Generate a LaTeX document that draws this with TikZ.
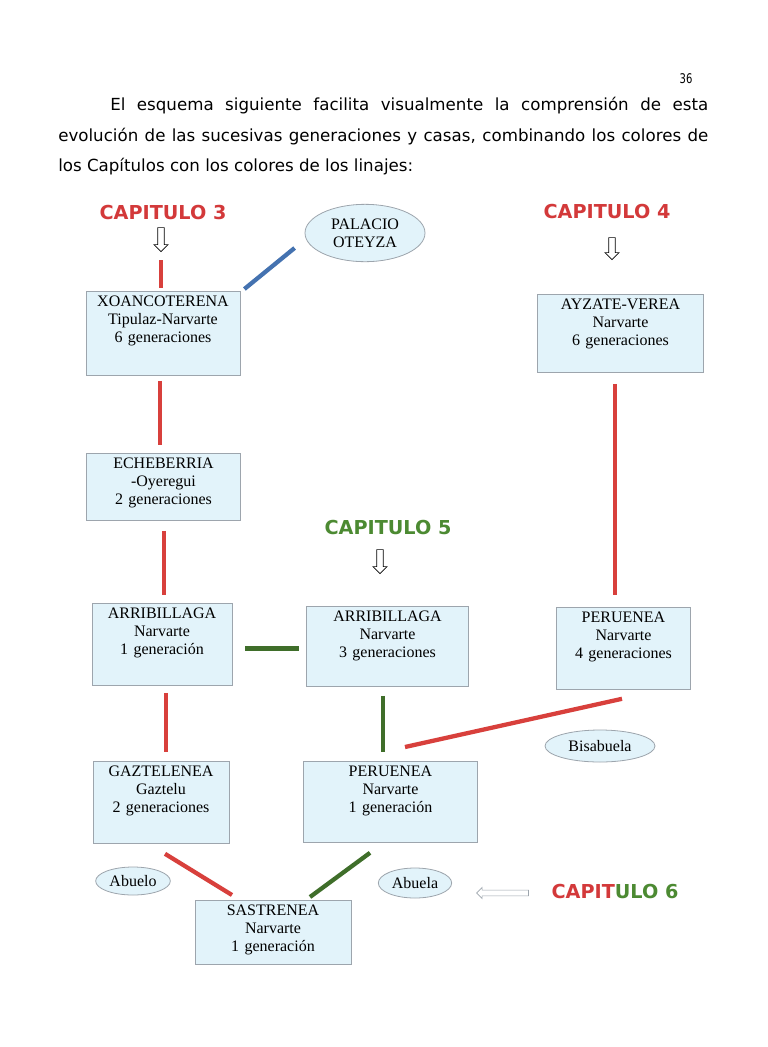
\documentclass[tikz,border=0pt]{standalone}
\usepackage{fontspec}
\setmainfont{Liberation Serif}
\newfontfamily\verdana{DejaVu Sans}
\usetikzlibrary{positioning, calc}
\usetikzlibrary{shapes.geometric, shapes.arrows}
\definecolor{rojo}{HTML}{D8403C}
\definecolor{rojotxt}{HTML}{D3393A}
\definecolor{verde}{HTML}{3F6E2A}
\definecolor{verdetxt}{HTML}{4C8A32}
\definecolor{azul}{HTML}{4472B0}
\definecolor{celeste}{HTML}{E2F3FA}
\definecolor{bordegris}{HTML}{9DA5AD}
\tikzstyle{casa} = [rectangle, draw=bordegris, fill=celeste, line width=0.6pt,
    align=center, inner sep=0pt, text height=11.5pt, font=\fontsize{12}{13.5}\selectfont]
\tikzstyle{nube} = [ellipse, draw=bordegris, fill=celeste, line width=0.6pt,
    align=center, inner sep=0pt, font=\fontsize{12}{13.5}\selectfont]
\tikzstyle{capitulo} = [inner sep=0pt, font=\verdana\bfseries\fontsize{14.4}{17}\selectfont]
\tikzstyle{flecha} = [single arrow, draw, fill=white, line width=0.5pt, inner sep=2.2pt,
    single arrow head extend=2.8pt, rotate=-90]
\tikzstyle{linea} = [draw, line width=3.2pt]

\begin{document}
\begin{tikzpicture}[x=0.75pt, y=-0.75pt]
  \path [use as bounding box, fill=white] (0,0) rectangle (768,1047);
   % Text of the page
    \node [font=\verdana\fontsize{10}{12}\selectfont, xscale=0.75] (pagina) at (686,79) {36};
    \node [anchor=north west, inner sep=0pt, text width=487.5pt, align=justify,
      font=\verdana\fontsize{12.5}{22.9}\selectfont] (intro) at (58,97)
      {\hspace*{39pt}El esquema siguiente facilita visualmente la comprensión de esta\linebreak
       evolución de las sucesivas generaciones y casas, combinando los colores de\linebreak
       los Capítulos con los colores de los linajes:};
   % Place nodes
    \node [capitulo, text=rojotxt] (cap3) at (163,213) {CAPITULO 3};
    \node [capitulo, text=rojotxt] (cap4) at (607,212) {CAPITULO 4};
    \node [capitulo, text=verdetxt] (cap5) at (388,528) {CAPITULO 5};
    \node [capitulo] (cap6) at (615,891) {\textcolor{rojotxt}{CAPIT}\textcolor{verdetxt}{ULO 6}};
    \node [flecha, minimum height=18pt] (f3) at (161,238) {};
    \node [flecha, minimum height=16.5pt] (f4) at (612,247) {};
    \node [flecha, minimum height=18pt] (f5) at (380,560) {};
    \node [flecha, rotate=270, draw=bordegris, minimum height=39pt, inner sep=1.9pt,
      single arrow head extend=2pt] (f6) at (504,893) {};
    \node [nube, minimum width=90pt, minimum height=43pt] (palacio) at (365,233) {PALACIO\\OTEYZA};
    \node [nube, minimum width=82.5pt, minimum height=24pt] (bisabuela) at (600,746) {Bisabuela};
    \node [nube, minimum width=56pt, minimum height=21pt] (abuelo) at (133,881) {Abuelo};
    \node [nube, minimum width=55pt, minimum height=22.5pt] (abuela) at (415,883) {Abuela};
    \node [casa, anchor=north, text width=115.5pt, text depth=51.5pt] (xoan) at (163,291)
      {XOANCOTERENA\\Tipulaz-Narvarte\\6 generaciones};
    \node [casa, anchor=north, text width=125pt, text depth=47pt] (ayzate) at (620.5,294)
      {AYZATE-VEREA\\Narvarte\\6 generaciones};
    \node [casa, anchor=north, text width=116pt, text depth=38.75pt] (eche) at (163.5,453)
      {ECHEBERRIA\\-Oyeregui\\2 generaciones};
    \node [casa, anchor=north, text width=105pt, text depth=50pt] (arriL) at (162,603)
      {ARRIBILLAGA\\Narvarte\\1 generación};
    \node [casa, anchor=north, text width=122pt, text depth=48.5pt] (arriM) at (387.5,606)
      {ARRIBILLAGA\\Narvarte\\3 generaciones};
    \node [casa, anchor=north, text width=100pt, text depth=50pt] (peruR) at (623.5,607)
      {PERUENEA\\Narvarte\\4 generaciones};
    \node [casa, anchor=north, text width=102pt, text depth=50pt] (gaz) at (161,761)
      {GAZTELENEA\\Gaztelu\\2 generaciones};
    \node [casa, anchor=north, text width=131pt, text depth=49.25pt] (peruB) at (390.5,761)
      {PERUENEA\\Narvarte\\1 generación};
    \node [casa, anchor=north, text width=117pt, text depth=36.5pt] (sas) at (273,900)
      {SASTRENEA\\Narvarte\\1 generación};
   % Draw edges
    \path [linea, rojo] ($(f3.tip)+(0,8)$) -- ($(f3.tip |- xoan.north)+(0,-3)$);
    \path [linea, azul] ($(xoan.north east)+(4,-2)$) -- ($(palacio.west)+(-10,15)$);
    \path [linea, rojo] ($(xoan.south)+(-3,5)$) -- ($(eche.north)+(-3.5,-8)$);
    \path [linea, rojo] ($(eche.south)+(0.5,10)$) -- ($(arriL.north)+(2,-8)$);
    \path [linea, verde] ($(arriL.east)+(13,4)$) -- ($(arriM.west)+(-7,2)$);
    \path [linea, rojo] ($(ayzate.south)+(-5.5,11)$) -- ($(peruR.north)+(-8.5,-12)$);
    \path [linea, verde] ($(arriM.south)+(-4.5,9)$) -- ($(peruB.north)+(-7.5,-9)$);
    \path [linea, rojo] ($(peruR.south)+(-1.5,9)$) -- ($(peruB.north)+(14.5,-14)$);
    \path [linea, rojo] ($(arriL.south)+(4,7)$) -- ($(gaz.north)+(5,-9)$);
    \path [linea, rojo] ($(gaz.south)+(4,10)$) -- ($(sas.north)+(-41,-5)$);
    \path [linea, verde] ($(peruB.south)+(-20.5,10)$) -- ($(sas.north)+(37,-3)$);
\end{tikzpicture}
\end{document}
